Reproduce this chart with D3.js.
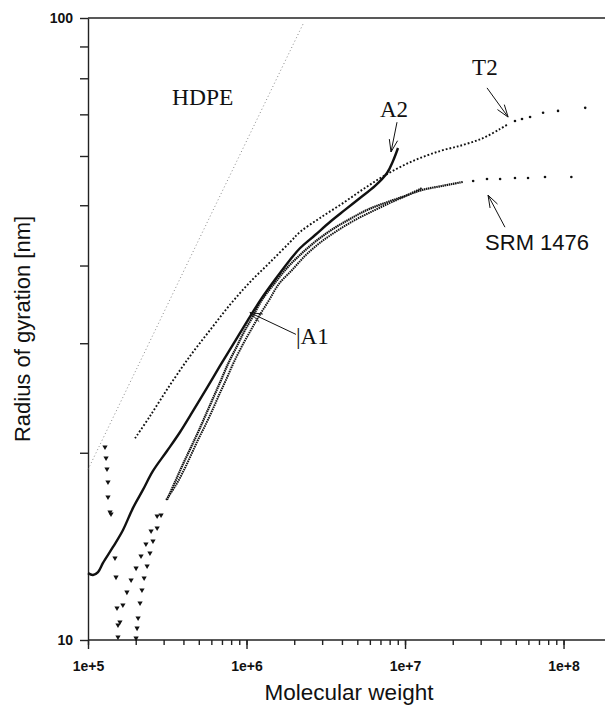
<!DOCTYPE html>
<html>
<head>
<meta charset="utf-8">
<script src="https://cdn.jsdelivr.net/npm/d3@7"></script>
<style>
    body { margin: 0; background: #fff; }
    svg { display: block; }
</style>
</head>
<body>
<div id="chart"></div>
<script>
// [molecular weight, radius of gyration in nm]
const hdpe = [[1e5, 18.8], [2e5, 27.1], [5e5, 44.0], [1e6, 63.4], [2.3e6, 98.4]];

const t2Line = [[1.98e5, 21.1], [2.46e5, 22.9], [3.29e5, 25.7], [4.40e5, 28.6], [5.89e5, 31.5],
    [7.87e5, 34.6], [1.05e6, 37.6], [1.41e6, 40.5], [1.88e6, 43.6], [2.18e6, 45.3], [2.91e6, 47.7],
    [4.06e6, 50.4], [5.59e6, 53.3], [7.69e6, 56.1], [1.12e7, 58.9], [1.66e7, 61.1], [2.32e7, 62.5],
    [3.10e7, 64.1], [3.97e7, 66.3], [4.47e7, 67.5]];
const t2Tail = [[4.94e7, 68.3], [5.47e7, 68.8], [6.15e7, 69.3], [7.43e7, 70.4], [9.23e7, 70.9], [1.37e8, 71.7]];

const a2Line = [[1.00e5, 12.81], [1.075e5, 12.72], [1.157e5, 12.86], [1.243e5, 13.30], [1.438e5, 14.11],
    [1.663e5, 15.03], [1.923e5, 16.31], [2.22e5, 17.43], [2.57e5, 18.70], [3.15e5, 20.13], [3.81e5, 21.6],
    [4.60e5, 23.35], [5.63e5, 25.42], [6.80e5, 27.58], [8.34e5, 30.03], [1.02e6, 32.69], [1.25e6, 35.47],
    [1.54e6, 38.19], [1.88e6, 40.83], [2.18e6, 42.68], [2.71e6, 44.78], [3.36e6, 46.99], [4.18e6, 49.14],
    [5.20e6, 51.35], [6.47e6, 53.70], [7.70e6, 56.33], [8.40e6, 58.90], [9.03e6, 61.80]];

const srmLow = [[1.28e5, 20.43], [1.30e5, 19.62], [1.318e5, 18.83], [1.337e5, 17.95], [1.337e5, 16.98],
    [1.377e5, 16.06], [1.397e5, 15.94], [1.48e5, 13.55], [1.502e5, 12.62], [1.524e5, 11.26],
    [1.546e5, 10.57], [1.546e5, 10.11], [1.59e5, 10.69], [1.66e5, 11.38], [1.76e5, 11.94],
    [1.87e5, 12.49], [2.01e5, 13.05], [2.16e5, 13.65], [2.32e5, 14.27], [2.50e5, 14.97], [2.73e5, 15.83]];
const srmLine = [[3.15e5, 16.8], [3.54e5, 17.95], [3.98e5, 19.19], [4.47e5, 20.43], [5.02e5, 21.76],
    [5.63e5, 23.26], [6.24e5, 24.68], [6.91e5, 26.18], [7.64e5, 27.78], [8.59e5, 29.48], [9.64e5, 31.28],
    [1.10e6, 33.18], [1.25e6, 35.21], [1.49e6, 37.35], [1.80e6, 39.64], [2.21e6, 41.75], [2.75e6, 43.81],
    [3.51e6, 45.80], [4.50e6, 47.53], [5.76e6, 49.14], [7.48e6, 50.43], [1.00e7, 51.75], [1.28e7, 52.91],
    [1.71e7, 53.70], [2.32e7, 54.50]];
const srmTail = [[2.69e7, 54.7], [3.29e7, 55.1], [3.98e7, 55.1], [4.94e7, 55.3], [5.97e7, 55.3],
    [7.64e7, 55.5], [1.12e8, 55.5]];

const a1Low = [[2.01e5, 10.07], [2.04e5, 10.45], [2.07e5, 10.85], [2.13e5, 11.47], [2.19e5, 12.03],
    [2.26e5, 12.58], [2.36e5, 13.15], [2.46e5, 13.80], [2.57e5, 14.43], [2.73e5, 15.14], [2.89e5, 15.89]];
const a1Line = [[3.11e5, 16.8], [3.59e5, 17.75], [4.03e5, 18.76], [4.47e5, 19.84], [4.94e5, 20.97],
    [5.47e5, 22.09], [6.06e5, 23.35], [6.71e5, 24.77], [7.42e5, 26.18], [8.22e5, 27.78], [9.23e5, 29.48],
    [1.05e6, 31.28], [1.20e6, 33.18], [1.39e6, 35.21], [1.60e6, 37.35], [1.94e6, 39.35], [2.37e6, 41.59],
    [2.95e6, 43.64], [3.72e6, 45.46], [4.84e6, 47.35], [6.28e6, 48.95], [8.04e6, 50.43], [1.01e7, 51.75],
    [1.28e7, 53.30]];

const xTicks = [1e5, 1e6, 1e7, 1e8];
const xTickLabels = ['1e+5', '1e+6', '1e+7', '1e+8'];
const yTicks = [10, 100];
const yTickLabels = ['10', '100'];

const width = 605, height = 711;
const margin = { top: 18, right: 1, bottom: 71, left: 88 };

const svg = d3.select('#chart')
    .append('svg')
    .attr('width', width)
    .attr('height', height);

const x = d3.scaleLog()
    .domain([1e5, 1.8e8])
    .range([margin.left, width - margin.right]);
const y = d3.scaleLog()
    .domain([10, 100])
    .range([height - margin.bottom, margin.top]);

const sans = 'Arial, "Liberation Sans", sans-serif';
const serif = '"Times New Roman", "Liberation Serif", serif';

// Frame line along the top
svg.append('line')
    .attr('x1', margin.left)
    .attr('x2', width)
    .attr('y1', y(100))
    .attr('y2', y(100))
    .attr('stroke', '#222')
    .attr('stroke-width', 1.4);

// X axis: minor ticks, then the decades with labels
const xMinor = svg.append('g')
    .attr('transform', `translate(0,${y(10)})`)
    .call(d3.axisBottom(x).tickValues(x.ticks()).tickSize(5).tickSizeOuter(0).tickFormat(''));
xMinor.select('.domain').remove();

const xMajor = svg.append('g')
    .attr('transform', `translate(0,${y(10)})`)
    .call(d3.axisBottom(x).tickValues(xTicks).tickSize(9).tickSizeOuter(0).tickPadding(12)
        .tickFormat((d, i) => xTickLabels[i]));
xMajor.select('.domain').attr('d', `M${margin.left},0H${width}`);

// Y axis
const yAxis = svg.append('g')
    .attr('transform', `translate(${margin.left},0)`)
    .call(d3.axisLeft(y).tickValues(y.ticks()).tickSize(8).tickSizeOuter(0).tickPadding(7)
        .tickFormat(d => {
            const i = yTicks.indexOf(d);
            return i < 0 ? '' : yTickLabels[i];
        }));

svg.selectAll('.tick line, .domain')
    .attr('stroke', '#222')
    .attr('stroke-width', 1.4);
svg.selectAll('.tick text')
    .attr('fill', '#111')
    .attr('font-family', sans)
    .attr('font-weight', 'bold')
    .attr('font-size', 14);

// Axis titles
svg.append('text')
    .attr('x', 349)
    .attr('y', 700)
    .attr('text-anchor', 'middle')
    .attr('font-family', sans)
    .attr('font-size', 22.5)
    .attr('fill', '#111')
    .text('Molecular weight');

svg.append('text')
    .attr('transform', `translate(30,${(y(10) + y(100)) / 2}) rotate(-90)`)
    .attr('text-anchor', 'middle')
    .attr('font-family', sans)
    .attr('font-size', 22)
    .attr('fill', '#111')
    .text('Radius of gyration [nm]');

const line = d3.line()
    .x(d => x(d[0]))
    .y(d => y(d[1]))
    .curve(d3.curveCatmullRom.alpha(0.5));

// HDPE reference, light dots
svg.append('path')
    .attr('d', line(hdpe))
    .attr('fill', 'none')
    .attr('stroke', '#8a8a8a')
    .attr('stroke-width', 1)
    .attr('stroke-dasharray', '1,2.6');

// Dense parts of the measured curves
const curves = [
    { data: t2Line, width: 1.9, dash: '1.8,2' },
    { data: a2Line, width: 2.4, dash: null },
    { data: srmLine, width: 2.2, dash: '1.5,0.6' },
    { data: a1Line, width: 2, dash: '1.5,0.8' }
];
curves.forEach(c => {
    svg.append('path')
        .attr('d', line(c.data))
        .attr('fill', 'none')
        .attr('stroke', '#111')
        .attr('stroke-width', c.width)
        .attr('stroke-dasharray', c.dash);
});

// Sparse points at both ends
const tri = d3.symbol().type(d3.symbolTriangle).size(12);
svg.append('g')
    .selectAll('path')
    .data(srmLow.concat(a1Low))
    .join('path')
    .attr('d', tri)
    .attr('transform', d => `translate(${x(d[0])},${y(d[1])}) rotate(180)`)
    .attr('fill', '#111');

svg.append('g')
    .selectAll('circle')
    .data(t2Tail.concat(srmTail))
    .join('circle')
    .attr('cx', d => x(d[0]))
    .attr('cy', d => y(d[1]))
    .attr('r', 1.3)
    .attr('fill', '#111');

// Labels and arrows
function label(text, m, r, font, size) {
    svg.append('text')
        .attr('x', x(m))
        .attr('y', y(r))
        .attr('font-family', font)
        .attr('font-size', size)
        .attr('fill', '#111')
        .text(text);
}

function arrow(m1, r1, m2, r2) {
    const x1 = x(m1), y1 = y(r1), x2 = x(m2), y2 = y(r2);
    const a = Math.atan2(y1 - y2, x1 - x2);
    const g = svg.append('g')
        .attr('stroke', '#111')
        .attr('stroke-width', 1)
        .attr('fill', 'none');
    g.append('line').attr('x1', x1).attr('y1', y1).attr('x2', x2).attr('y2', y2);
    [-0.33, 0.33].forEach(da => {
        g.append('line')
            .attr('x1', x2)
            .attr('y1', y2)
            .attr('x2', x2 + 13 * Math.cos(a + da))
            .attr('y2', y2 + 13 * Math.sin(a + da));
    });
}

label('HDPE', 3.39e5, 72.5, serif, 23.5);
label('T2', 2.65e7, 81.0, serif, 23);
label('A2', 6.95e6, 69.3, serif, 23);
label('|A1', 2.05e6, 29.9, serif, 23);
label('SRM 1476', 3.2e7, 42.4, sans, 22);

arrow(3.29e7, 77.2, 4.47e7, 69.3);
arrow(8.9e6, 68.0, 8.16e6, 60.9);
arrow(4.27e7, 46.1, 3.34e7, 51.9);
arrow(2.05e6, 31.0, 1.05e6, 33.6);
</script>
</body>
</html>
